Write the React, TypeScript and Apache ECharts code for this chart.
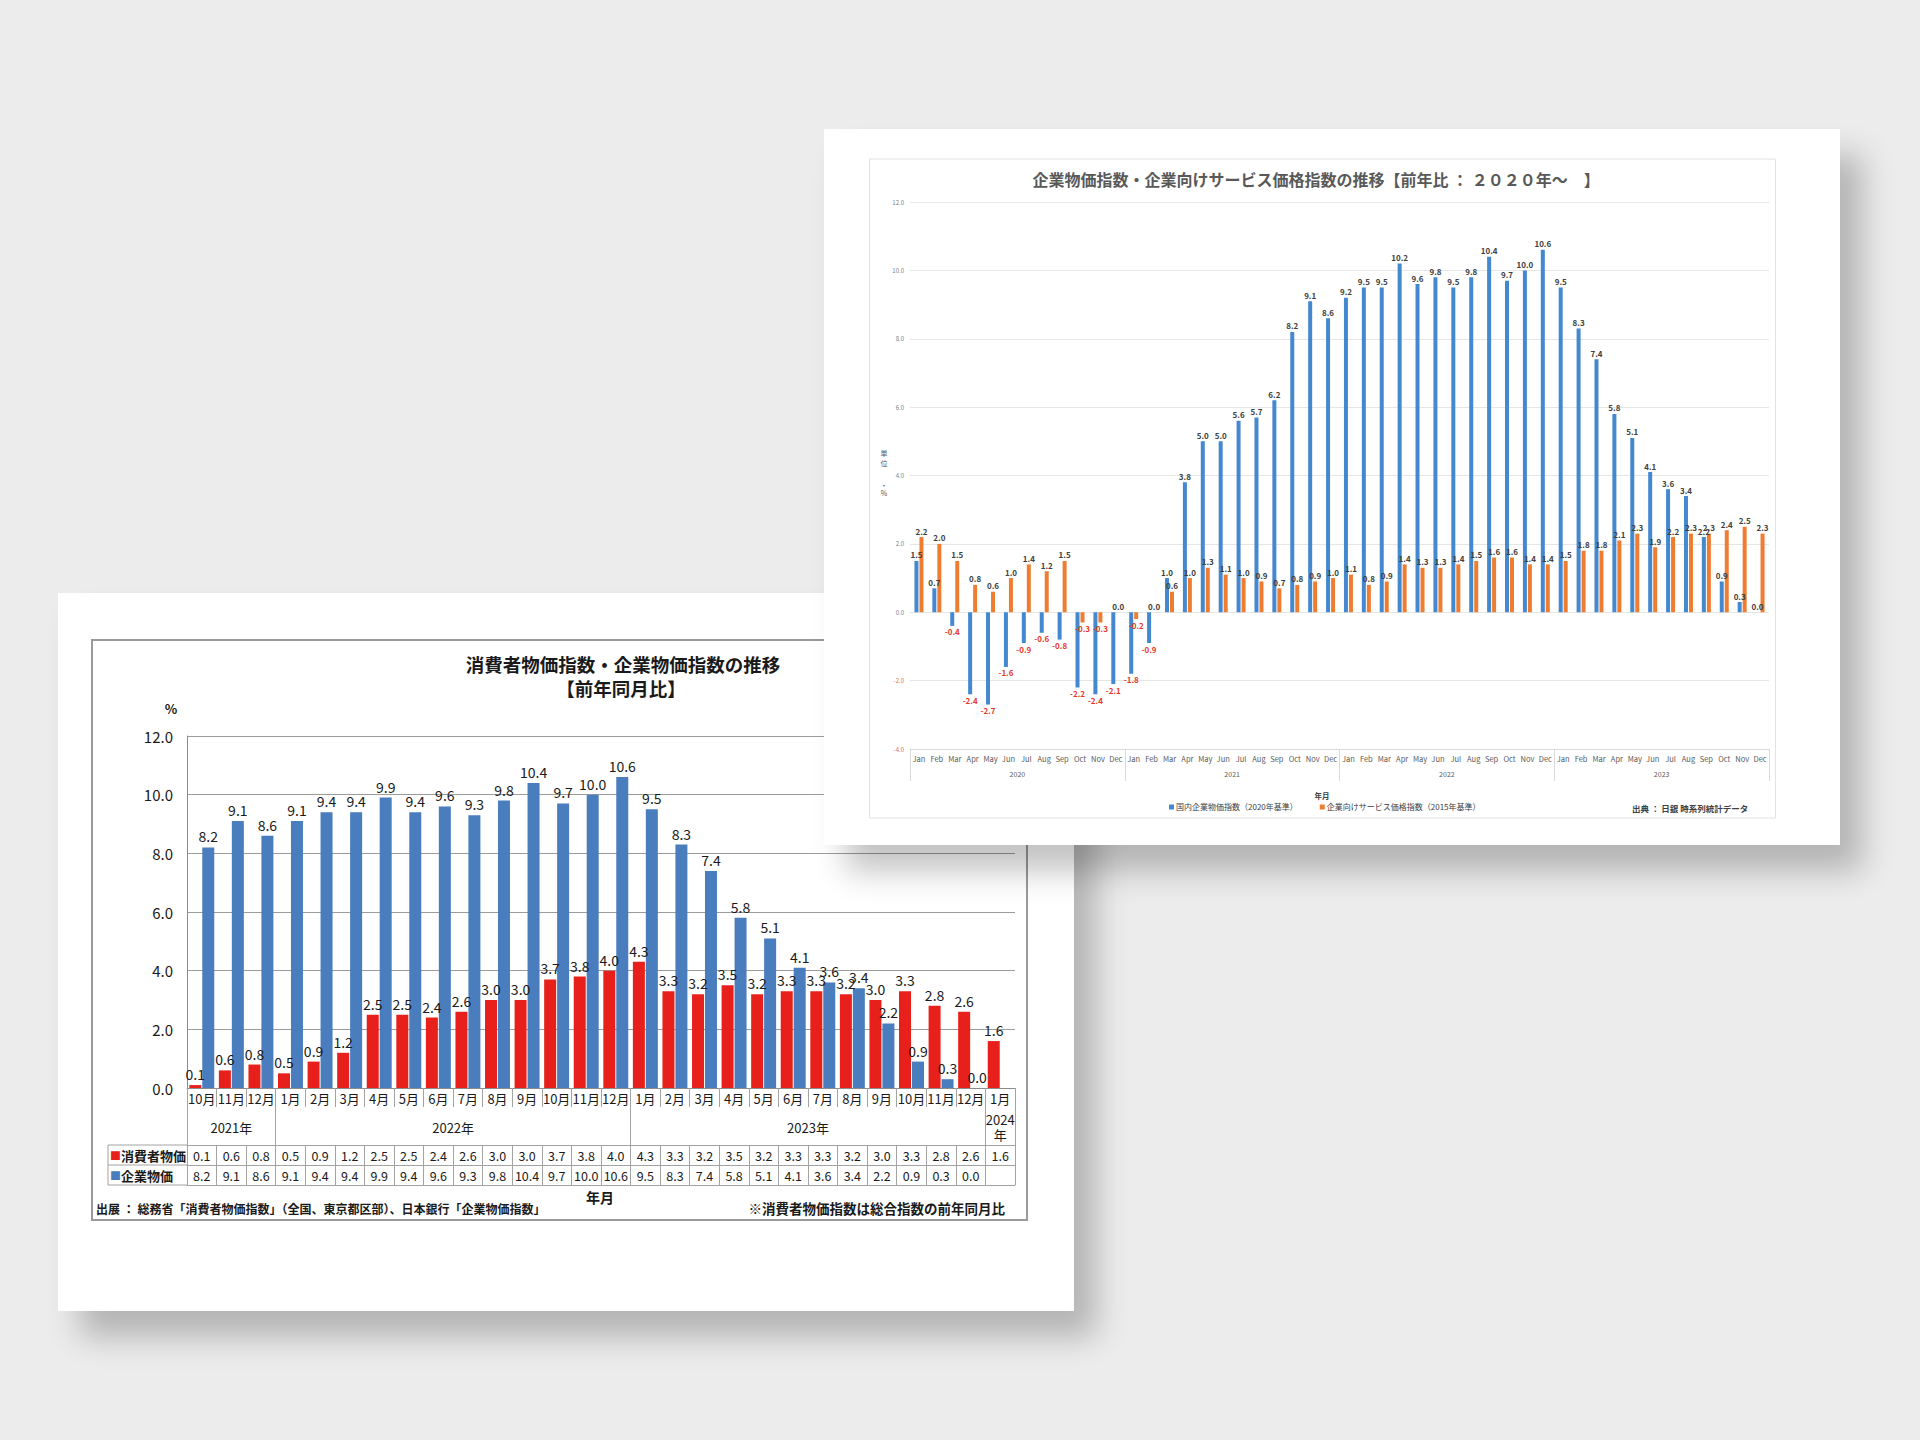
import React, { useEffect, useRef } from "react";
import * as echarts from "echarts";

const FONT = "'Noto Sans CJK JP', 'Noto Sans', sans-serif";

// ---------- Left chart data ----------
const leftMonths = [
  "10月", "11月", "12月",
  "1月", "2月", "3月", "4月", "5月", "6月", "7月", "8月", "9月", "10月", "11月", "12月",
  "1月", "2月", "3月", "4月", "5月", "6月", "7月", "8月", "9月", "10月", "11月", "12月",
  "1月",
];
const leftYearLabels = ["2021年", "2022年", "2023年", "2024\n年"];
const leftYearCenters = [1.5, 9, 21, 27.5];
const leftYearBounds = [0, 3, 15, 27, 28];
const cpiValues = [
  0.1, 0.6, 0.8,
  0.5, 0.9, 1.2, 2.5, 2.5, 2.4, 2.6, 3.0, 3.0, 3.7, 3.8, 4.0,
  4.3, 3.3, 3.2, 3.5, 3.2, 3.3, 3.3, 3.2, 3.0, 3.3, 2.8, 2.6,
  1.6,
];
const cgpiValues: (number | null)[] = [
  8.2, 9.1, 8.6,
  9.1, 9.4, 9.4, 9.9, 9.4, 9.6, 9.3, 9.8, 10.4, 9.7, 10.0, 10.6,
  9.5, 8.3, 7.4, 5.8, 5.1, 4.1, 3.6, 3.4, 2.2, 0.9, 0.3, 0.0,
  null,
];
const leftSeriesNames = ["消費者物価", "企業物価"];

// ---------- Right chart data ----------
const monthAbbr = ["Jan", "Feb", "Mar", "Apr", "May", "Jun", "Jul", "Aug", "Sep", "Oct", "Nov", "Dec"];
const rightYears = ["2020", "2021", "2022", "2023"];
const rightYearCenters = [6, 18, 30, 42];
const rightYearBounds = [0, 12, 24, 36, 48];
const rightMonths = rightYears.flatMap(() => monthAbbr);
const domesticCgpi = [
  1.5, 0.7, -0.4, -2.4, -2.7, -1.6, -0.9, -0.6, -0.8, -2.2, -2.4, -2.1,
  -1.8, -0.9, 1.0, 3.8, 5.0, 5.0, 5.6, 5.7, 6.2, 8.2, 9.1, 8.6,
  9.2, 9.5, 9.5, 10.2, 9.6, 9.8, 9.5, 9.8, 10.4, 9.7, 10.0, 10.6,
  9.5, 8.3, 7.4, 5.8, 5.1, 4.1, 3.6, 3.4, 2.2, 0.9, 0.3, 0.0,
];
const servicesPpi = [
  2.2, 2.0, 1.5, 0.8, 0.6, 1.0, 1.4, 1.2, 1.5, -0.3, -0.3, 0.0,
  -0.2, 0.0, 0.6, 1.0, 1.3, 1.1, 1.0, 0.9, 0.7, 0.8, 0.9, 1.0,
  1.1, 0.8, 0.9, 1.4, 1.3, 1.3, 1.4, 1.5, 1.6, 1.6, 1.4, 1.4,
  1.5, 1.8, 1.8, 2.1, 2.3, 1.9, 2.2, 2.3, 2.3, 2.4, 2.5, 2.3,
];
const rightSeriesNames = ["国内企業物価指数（2020年基準）", "企業向けサービス価格指数（2015年基準）"];
const unitChars = ["単", "位", "・", "%"];

// ---------- styles ----------
const RED = "#e8201c";
const BLUE_L = "#4a7dbd";
const BLUE_R = "#4488d0";
const ORANGE = "#ef7d31";
const NEG = "#e8382a";

const fmt1 = (v: number | null | undefined) =>
  v === null || v === undefined ? "" : Number(v).toFixed(1);

function leftOption(): any {
  const lineC = "#a3a3a3";
  const barLabel = {
    show: true,
    position: "top",
    distance: 4,
    fontSize: 14,
    color: "#1a1a1a",
    fontFamily: FONT,
    formatter: (p: any) => fmt1(p.value),
  };
  const rowAxis = (offset: number, data: string[]) => ({
    type: "category",
    position: "bottom",
    offset,
    data,
    axisLine: { show: true, onZero: false, lineStyle: { color: lineC, width: 1 } },
    axisTick: { show: true, interval: 0, length: 20, lineStyle: { color: lineC } },
    axisLabel: {
      interval: 0,
      fontSize: 12.5,
      color: "#1a1a1a",
      margin: 10,
      verticalAlign: "middle",
      fontFamily: FONT,
    },
    splitLine: { show: false },
  });
  return {
    animation: false,
    textStyle: { fontFamily: FONT },
    grid: { left: 129, right: 59, top: 143, bottom: 223, containLabel: false, outerBoundsMode: "none" },
    xAxis: [
      {
        type: "category",
        position: "bottom",
        data: leftMonths,
        axisLine: { show: true, onZero: false, lineStyle: { color: "#8c8c8c", width: 1 } },
        axisTick: { show: true, interval: 0, length: 19, lineStyle: { color: lineC } },
        axisLabel: { interval: 0, fontSize: 13, color: "#1a1a1a", margin: 4, fontFamily: FONT },
        splitLine: { show: false },
      },
      {
        type: "value",
        position: "bottom",
        min: 0,
        max: 28,
        axisLine: { show: false, onZero: false },
        splitLine: { show: false },
        axisTick: { show: true, customValues: leftYearBounds, length: 57, lineStyle: { color: lineC } },
        axisLabel: {
          customValues: leftYearCenters,
          formatter: (v: any) => leftYearLabels[leftYearCenters.indexOf(Number(v))] ?? "",
          fontSize: 13,
          color: "#1a1a1a",
          margin: 39,
          verticalAlign: "middle",
          lineHeight: 15,
          fontFamily: FONT,
        },
      },
      rowAxis(57, cpiValues.map(fmt1)),
      rowAxis(77, cgpiValues.map(fmt1)),
      {
        type: "category",
        position: "bottom",
        offset: 97,
        data: leftMonths,
        axisLine: { show: true, onZero: false, lineStyle: { color: lineC, width: 1 } },
        axisTick: { show: false },
        axisLabel: { show: false },
        splitLine: { show: false },
      },
    ],
    yAxis: {
      type: "value",
      min: 0,
      max: 12,
      interval: 2,
      axisLine: { show: true, lineStyle: { color: "#8c8c8c" } },
      axisTick: { show: false },
      splitLine: { show: true, lineStyle: { color: "#9c9c9c", width: 1 } },
      axisLabel: {
        fontSize: 15,
        color: "#1a1a1a",
        margin: 14,
        fontFamily: FONT,
        formatter: (v: number) => Number(v).toFixed(1),
      },
    },
    series: [
      {
        name: leftSeriesNames[0],
        type: "bar",
        data: cpiValues,
        barWidth: 12,
        barGap: "8%",
        itemStyle: { color: RED },
        label: barLabel,
      },
      {
        name: leftSeriesNames[1],
        type: "bar",
        data: cgpiValues,
        barWidth: 12,
        barGap: "8%",
        itemStyle: { color: BLUE_L },
        label: barLabel,
      },
    ],
    graphic: [
      {
        type: "rect",
        silent: true,
        shape: { x: 34, y: 47, width: 935, height: 580 },
        style: { fill: "none", stroke: "#9a9a9a", lineWidth: 2 },
      },
      {
        type: "text",
        x: 565,
        y: 71,
        style: {
          text: "消費者物価指数・企業物価指数の推移",
          fontSize: 18.5,
          fontWeight: "bold",
          fontFamily: FONT,
          fill: "#1a1a1a",
          align: "center",
          verticalAlign: "middle",
        },
      },
      {
        type: "text",
        x: 563,
        y: 95,
        style: {
          text: "【前年同月比】",
          fontSize: 18.5,
          fontWeight: "bold",
          fontFamily: FONT,
          fill: "#1a1a1a",
          align: "center",
          verticalAlign: "middle",
        },
      },
      {
        type: "text",
        x: 113,
        y: 115,
        style: { text: "%", fontSize: 13, fontWeight: "bold", fontFamily: FONT, fill: "#1a1a1a", align: "center", verticalAlign: "middle" },
      },
      // legend cell of the data table
      { type: "line", silent: true, shape: { x1: 50, y1: 552, x2: 129, y2: 552 }, style: { stroke: lineC, lineWidth: 1 } },
      { type: "line", silent: true, shape: { x1: 50, y1: 572, x2: 129, y2: 572 }, style: { stroke: lineC, lineWidth: 1 } },
      { type: "line", silent: true, shape: { x1: 50, y1: 592, x2: 129, y2: 592 }, style: { stroke: lineC, lineWidth: 1 } },
      { type: "line", silent: true, shape: { x1: 50, y1: 552, x2: 50, y2: 592 }, style: { stroke: lineC, lineWidth: 1 } },
      {
        type: "text",
        x: 52,
        y: 562,
        style: {
          text: "{s|■}{t|" + leftSeriesNames[0] + "}",
          verticalAlign: "middle",
          rich: {
            s: { fill: RED, fontSize: 11, fontFamily: FONT },
            t: { fill: "#1a1a1a", fontSize: 13, fontWeight: "bold", fontFamily: FONT },
          },
        },
      },
      {
        type: "text",
        x: 52,
        y: 582,
        style: {
          text: "{s|■}{t|" + leftSeriesNames[1] + "}",
          verticalAlign: "middle",
          rich: {
            s: { fill: BLUE_L, fontSize: 11, fontFamily: FONT },
            t: { fill: "#1a1a1a", fontSize: 13, fontWeight: "bold", fontFamily: FONT },
          },
        },
      },
      {
        type: "text",
        x: 542,
        y: 604,
        style: { text: "年月", fontSize: 14, fontWeight: "bold", fontFamily: FONT, fill: "#1a1a1a", align: "center", verticalAlign: "middle" },
      },
      {
        type: "text",
        x: 38,
        y: 615,
        style: {
          text: "出展 ： 総務省「消費者物価指数」（全国、東京都区部）、日本銀行「企業物価指数」",
          fontSize: 12,
          fontWeight: "bold",
          fontFamily: FONT,
          fill: "#1a1a1a",
          align: "left",
          verticalAlign: "middle",
        },
      },
      {
        type: "text",
        x: 947,
        y: 615,
        style: {
          text: "※消費者物価指数は総合指数の前年同月比",
          fontSize: 13.5,
          fontWeight: "bold",
          fontFamily: FONT,
          fill: "#1a1a1a",
          align: "right",
          verticalAlign: "middle",
        },
      },
    ],
  };
}

function rightOption(): any {
  const axisC = "#d9d9d9";
  const mkData = (arr: number[]) =>
    arr.map((v) => (v < 0 ? { value: v, label: { position: "bottom", color: NEG } } : { value: v }));
  const barLabel = {
    show: true,
    position: "top",
    distance: 2,
    fontSize: 8,
    fontWeight: "bold",
    color: "#404040",
    fontFamily: FONT,
    formatter: (p: any) => fmt1(p.value),
  };
  const unitYs = [324, 334, 356, 364];
  return {
    animation: false,
    textStyle: { fontFamily: FONT },
    grid: { left: 86, right: 71, top: 73, bottom: 96, containLabel: false, outerBoundsMode: "none" },
    legend: {
      data: rightSeriesNames,
      left: 345,
      top: 674,
      padding: 0,
      icon: "rect",
      itemWidth: 5,
      itemHeight: 5,
      itemGap: 22,
      textStyle: { fontSize: 8, color: "#404040", fontFamily: FONT, padding: [0, 0, 0, -3] },
    },
    xAxis: [
      {
        type: "category",
        position: "bottom",
        data: rightMonths,
        axisLine: { show: true, onZero: false, lineStyle: { color: axisC } },
        axisTick: { show: false },
        axisLabel: { interval: 0, fontSize: 7.5, color: "#595959", margin: 6, fontFamily: FONT },
        splitLine: { show: false },
      },
      {
        type: "value",
        position: "bottom",
        min: 0,
        max: 48,
        axisLine: { show: false, onZero: false },
        splitLine: { show: false },
        axisTick: { show: true, customValues: rightYearBounds, length: 32, lineStyle: { color: axisC } },
        axisLabel: {
          customValues: rightYearCenters,
          formatter: (v: any) => rightYears[rightYearCenters.indexOf(Number(v))] ?? "",
          fontSize: 7,
          color: "#595959",
          margin: 21,
          fontFamily: FONT,
        },
      },
    ],
    yAxis: {
      type: "value",
      min: -4,
      max: 12,
      interval: 2,
      axisLine: { show: false },
      axisTick: { show: false },
      splitLine: { show: true, lineStyle: { color: "#e6e6e6", width: 1 } },
      axisLabel: {
        fontSize: 6,
        margin: 6,
        fontFamily: FONT,
        color: (v: any) => (Number(v) < 0 ? "#e8703a" : "#808080"),
        formatter: (v: number) => Number(v).toFixed(1),
      },
    },
    series: [
      {
        name: rightSeriesNames[0],
        type: "bar",
        data: mkData(domesticCgpi),
        barWidth: 4,
        barGap: "25%",
        itemStyle: { color: BLUE_R },
        label: barLabel,
      },
      {
        name: rightSeriesNames[1],
        type: "bar",
        data: mkData(servicesPpi),
        barWidth: 4,
        barGap: "25%",
        itemStyle: { color: ORANGE },
        label: barLabel,
      },
    ],
    graphic: [
      {
        type: "rect",
        silent: true,
        shape: { x: 45.5, y: 30, width: 906, height: 659 },
        style: { fill: "none", stroke: "#e2e2e2", lineWidth: 1 },
      },
      {
        type: "text",
        x: 492,
        y: 50,
        style: {
          text: "企業物価指数・企業向けサービス価格指数の推移【前年比 ： ２０２０年～　】",
          fontSize: 16,
          fontWeight: "bold",
          fontFamily: FONT,
          fill: "#595959",
          align: "center",
          verticalAlign: "middle",
        },
      },
      ...unitChars.map((ch, i) => ({
        type: "text",
        x: 60,
        y: unitYs[i],
        style: {
          text: ch,
          fontSize: 7,
          fontFamily: FONT,
          fill: "#595959",
          align: "center",
          verticalAlign: "middle",
        },
      })),
      {
        type: "text",
        x: 498,
        y: 666,
        style: { text: "年月", fontSize: 7.5, fontWeight: "bold", fontFamily: FONT, fill: "#404040", align: "center", verticalAlign: "middle" },
      },
      {
        type: "text",
        x: 808,
        y: 679,
        style: {
          text: "出典 ： 日銀 時系列統計データ",
          fontSize: 8.5,
          fontWeight: "bold",
          fontFamily: FONT,
          fill: "#404040",
          align: "left",
          verticalAlign: "middle",
        },
      },
    ],
  };
}

function ChartBox({ option, width, height }: { option: any; width: number; height: number }) {
  const ref = useRef<HTMLDivElement>(null);
  useEffect(() => {
    if (!ref.current) return;
    const chart = echarts.init(ref.current, undefined, { renderer: "svg" });
    chart.setOption(option);
    return () => {
      chart.dispose();
    };
  }, []);
  return <div ref={ref} style={{ width, height }} />;
}

export default function App() {
  return (
    <div
      style={{
        position: "absolute",
        left: 0,
        top: 0,
        width: 1920,
        height: 1440,
        background: "#ececec",
        overflow: "hidden",
      }}
    >
      <div
        style={{
          position: "absolute",
          left: 58,
          top: 593,
          width: 1016,
          height: 718,
          background: "#ffffff",
          boxShadow: "22px 26px 30px rgba(0,0,0,0.24)",
        }}
      >
        <ChartBox option={leftOption()} width={1016} height={718} />
      </div>
      <div
        style={{
          position: "absolute",
          left: 824,
          top: 129,
          width: 1016,
          height: 716,
          background: "#ffffff",
          boxShadow: "22px 26px 30px rgba(0,0,0,0.24)",
        }}
      >
        <ChartBox option={rightOption()} width={1016} height={716} />
      </div>
    </div>
  );
}
